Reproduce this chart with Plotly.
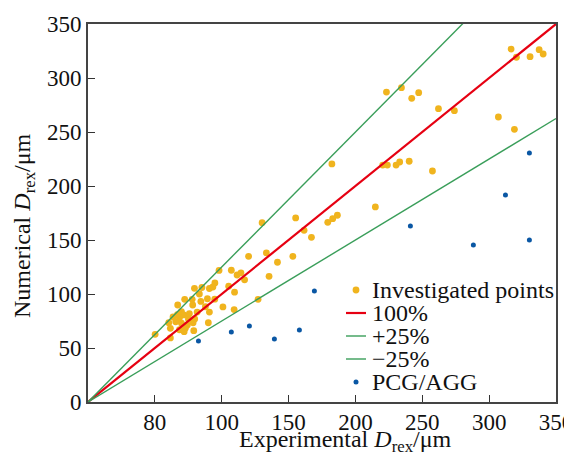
import plotly.graph_objects as go

# Investigated points (axis units; x-axis tick at 50 is labelled "80")
inv_x = [316.4, 320.4, 330.6, 337.4, 340.4, 223.2, 234.4, 242.1, 247.3, 262.1, 274.0, 306.9, 318.9,
         130.2, 155.3, 161.6, 167.1, 179.3, 183.0, 186.5, 182.4, 214.9, 220.4, 223.9, 230.4, 233.1, 240.2, 257.6,
         120.1, 133.4, 141.7, 153.2, 98.0, 107.2, 135.4, 127.2, 111.5, 114.4, 117.1, 105.2, 109.6,
         94.9, 90.8, 93.4, 85.2, 79.6, 83.3, 89.3, 94.8, 77.9, 84.4, 100.9, 109.3, 72.3, 67.1, 78.3, 87.8,
         69.9, 71.6, 75.8, 81.6, 90.8, 66.9, 63.6, 68.4, 75.1, 79.8, 60.4, 65.6, 69.9, 74.3, 78.6, 90.0,
         68.4, 72.8, 79.1, 61.6, 71.9, 50.2, 61.6]
inv_y = [326.8, 319.2, 319.7, 326.2, 322.2, 287.0, 291.0, 281.2, 286.4, 271.6, 269.7, 263.9, 252.5,
         166.0, 170.4, 159.0, 152.5, 166.4, 169.7, 172.9, 220.4, 180.6, 219.4, 219.4, 219.4, 222.2, 222.9, 213.9,
         134.9, 138.0, 129.4, 134.9, 121.8, 122.0, 116.4, 95.1, 117.6, 119.6, 113.1, 107.2, 101.7,
         110.2, 105.1, 106.5, 106.0, 105.3, 100.0, 95.6, 95.2, 95.1, 93.1, 88.0, 85.6, 95.1, 89.8, 89.8, 88.2,
         83.6, 80.6, 81.8, 83.3, 83.3, 80.8, 78.7, 78.1, 76.9, 76.9, 73.4, 74.3, 72.9, 71.3, 73.4, 73.4,
         66.9, 68.2, 66.0, 68.2, 65.1, 62.7, 59.3]

# PCG/AGG points
pcg_x = [82.6, 107.2, 120.7, 139.4, 158.1, 169.3, 241.1, 288.2, 312.2, 330.1, 330.1]
pcg_y = [56.5, 64.8, 70.4, 58.3, 66.7, 102.8, 163.0, 145.4, 191.7, 230.6, 150.0]

# Reference lines
line_x = [0, 350]
ratio_100 = 1.0
ratio_p25 = 1.25
ratio_m25 = 0.75

x_tickvals = [50, 100, 150, 200, 250, 300, 350]
x_ticktext = ["80", "100", "150", "200", "250", "300", "350"]
y_tickvals = [0, 50, 100, 150, 200, 250, 300, 350]

legend_labels = ["Investigated points", "100%", "+25%", "\u221225%", "PCG/AGG"]
x_title = "Experimental <i>D</i><sub>rex</sub>/\u03bcm"
y_title = "Numerical <i>D</i><sub>rex</sub>/\u03bcm"

FONT = "Liberation Serif"
YELLOW = "#F0B41E"
RED = "#E60012"
GREEN = "#3A9E5A"
BLUE = "#0A57A4"

fig = go.Figure()
fig.add_trace(go.Scatter(x=inv_x, y=inv_y, mode="markers", name=legend_labels[0],
                         marker=dict(color=YELLOW, size=6.8)))
fig.add_trace(go.Scatter(x=line_x, y=[v * ratio_100 for v in line_x], mode="lines", name=legend_labels[1],
                         line=dict(color=RED, width=2.2)))
fig.add_trace(go.Scatter(x=line_x, y=[v * ratio_p25 for v in line_x], mode="lines", name=legend_labels[2],
                         line=dict(color=GREEN, width=1.4)))
fig.add_trace(go.Scatter(x=line_x, y=[v * ratio_m25 for v in line_x], mode="lines", name=legend_labels[3],
                         line=dict(color=GREEN, width=1.4)))
fig.add_trace(go.Scatter(x=pcg_x, y=pcg_y, mode="markers", name=legend_labels[4],
                         marker=dict(color=BLUE, size=5)))

# Page body has an 8px margin, so the figure is 8px smaller and offset
OFF = 8
FW, FH = 572 - OFF, 455 - OFF
L, T, W, H = 88 - OFF, 24 - OFF, 468, 378

def px2paper(px, py):
    # px, py are window pixel positions
    return (px - OFF - L) / W, (T + H - (py - OFF)) / H

row_py = [290, 313, 336, 359, 382]
kinds = [("dot", YELLOW, 6.8), ("line", RED, 2.2), ("line", GREEN, 1.4), ("line", GREEN, 1.4), ("dot", BLUE, 5)]
shapes = []
annotations = []
for lab, py, (kind, col, sz) in zip(legend_labels, row_py, kinds):
    tx, ty = px2paper(370, py)
    annotations.append(dict(x=tx, y=ty, xref="paper", yref="paper", text=lab, showarrow=False,
                            xanchor="left", yanchor="middle", font=dict(family=FONT, size=24, color="#111")))
    if kind == "line":
        x0, y0 = px2paper(346, py)
        x1, _ = px2paper(366, py)
        shapes.append(dict(type="line", xref="paper", yref="paper", x0=x0, x1=x1, y0=y0, y1=y0,
                           line=dict(color=col, width=sz)))
    else:
        r = sz / 2
        x0, y0 = px2paper(356 - r, py + r)
        x1, y1 = px2paper(356 + r, py - r)
        shapes.append(dict(type="circle", xref="paper", yref="paper", x0=x0, x1=x1, y0=y0, y1=y1,
                           fillcolor=col, line=dict(width=0)))

# Axis titles as annotations (the reference's x title is right of centre)
ax_, ay_ = px2paper(345, 441)
annotations.append(dict(x=ax_, y=ay_, xref="paper", yref="paper", text=x_title, showarrow=False,
                        xanchor="center", yanchor="middle", font=dict(family=FONT, size=24, color="#111")))
bx_, by_ = px2paper(24, 226)
annotations.append(dict(x=bx_, y=by_, xref="paper", yref="paper", text=y_title, showarrow=False,
                        textangle=-90, xanchor="center", yanchor="middle",
                        font=dict(family=FONT, size=24, color="#111")))

fig.update_layout(
    width=FW, height=FH,
    margin=dict(l=L, r=FW - L - W, t=T, b=FH - T - H),
    plot_bgcolor="white", paper_bgcolor="white",
    font=dict(family=FONT, size=22, color="#111"),
    showlegend=False,
    shapes=shapes, annotations=annotations,
    xaxis=dict(range=[0, 350], tickvals=x_tickvals, ticktext=x_ticktext, ticks="inside", ticklen=7,
               tickwidth=1.3, tickcolor="#333", showline=True, linecolor="#444", linewidth=1.6,
               mirror=True, showgrid=False, zeroline=False, tickfont=dict(size=23),
               ticklabeloverflow="allow", ticklabelstandoff=-1,
               automargin=False),
    yaxis=dict(range=[0, 350], tickvals=y_tickvals, ticks="inside", ticklen=7,
               tickwidth=1.3, tickcolor="#333", showline=True, linecolor="#444", linewidth=1.6,
               mirror=True, showgrid=False, zeroline=False, tickfont=dict(size=23),
               ticklabeloverflow="allow",
               automargin=False),
)
fig.write_html("out.html")
